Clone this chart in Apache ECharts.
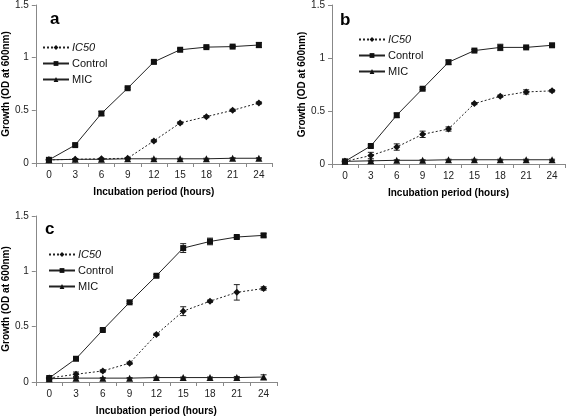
<!DOCTYPE html>
<html><head><meta charset="utf-8">
<script src="https://cdn.jsdelivr.net/npm/echarts@6/dist/echarts.min.js"></script>
<style>html,body{margin:0;padding:0;background:#fff}#c{width:567px;height:417px}</style>
</head><body><div id="c"></div>
<script>
const hours = ['0','3','6','9','12','15','18','21','24'];
const yTicks = [0, 0.5, 1, 1.5];
const panelLabels = ['a','b','c'];
const seriesNames = ['IC50','Control','MIC'];

// Panel a
const aIC50 = [0.03,0.035,0.04,0.045,0.21,0.38,0.44,0.50,0.57];
const aIC50Err = [0.005,0.005,0.005,0.005,0.01,0.01,0.01,0.01,0.01];
const aControl = [0.03,0.17,0.47,0.71,0.96,1.075,1.10,1.105,1.12];
const aControlErr = [0.005,0.01,0.02,0.01,0.015,0.01,0.01,0.01,0.025];
const aMIC = [0.03,0.035,0.035,0.04,0.04,0.04,0.04,0.045,0.045];
const aMICErr = [0.005,0.005,0.005,0.005,0.005,0.005,0.005,0.005,0.005];

// Panel b
const bIC50 = [0.025,0.08,0.16,0.28,0.33,0.57,0.64,0.68,0.69];
const bIC50Err = [0.005,0.03,0.03,0.03,0.02,0.01,0.01,0.02,0.01];
const bControl = [0.025,0.17,0.46,0.71,0.96,1.07,1.10,1.10,1.12];
const bControlErr = [0.01,0.01,0.02,0.01,0.02,0.01,0.03,0.01,0.01];
const bMIC = [0.025,0.03,0.035,0.035,0.04,0.04,0.04,0.04,0.04];
const bMICErr = [0.005,0.005,0.005,0.005,0.005,0.005,0.005,0.005,0.005];

// Panel c
const cIC50 = [0.036,0.07,0.10,0.17,0.43,0.64,0.73,0.81,0.845];
const cIC50Err = [0.005,0.02,0.01,0.01,0.01,0.04,0.01,0.07,0.015];
const cControl = [0.036,0.21,0.47,0.72,0.96,1.21,1.27,1.31,1.325];
const cControlErr = [0.01,0.01,0.01,0.01,0.01,0.04,0.03,0.01,0.015];
const cMIC = [0.03,0.035,0.035,0.035,0.04,0.04,0.04,0.04,0.045];
const cMICErr = [0.005,0.005,0.005,0.005,0.005,0.005,0.005,0.01,0.02];

const panels = [
  {ic:aIC50, icE:aIC50Err, ct:aControl, ctE:aControlErr, mic:aMIC, micE:aMICErr},
  {ic:bIC50, icE:bIC50Err, ct:bControl, ctE:bControlErr, mic:bMIC, micE:bMICErr},
  {ic:cIC50, icE:cIC50Err, ct:cControl, ctE:cControlErr, mic:cMIC, micE:cMICErr}
];

const FONT = '"Liberation Sans", Arial, sans-serif';
const grids = [
  {left:34, top:5, width:238, height:158},
  {left:332, top:5, width:233, height:159},
  {left:34, top:216, width:243, height:166}
];
const legendPos = [{left:42, top:42},{left:358, top:34},{left:48, top:249}];
const letterPos = [{left:50, top:11},{left:340, top:12},{left:45, top:221}];

function errSeries(idx, vals, errs) {
  return {
    type:'custom', xAxisIndex:idx, yAxisIndex:idx, z:1, silent:true,
    data: vals.map((v,i)=>[i, v-errs[i], v+errs[i]]),
    renderItem: function(params, api){
      const x = api.value(0);
      const lo = api.coord([x, api.value(1)]);
      const hi = api.coord([x, api.value(2)]);
      const w = 3;
      const st = {stroke:'#222', lineWidth:1};
      return {type:'group', children:[
        {type:'line', shape:{x1:lo[0],y1:lo[1],x2:hi[0],y2:hi[1]}, style:st},
        {type:'line', shape:{x1:lo[0]-w,y1:lo[1],x2:lo[0]+w,y2:lo[1]}, style:st},
        {type:'line', shape:{x1:hi[0]-w,y1:hi[1],x2:hi[0]+w,y2:hi[1]}, style:st}
      ]};
    }
  };
}

const series = [];
panels.forEach((p, i) => {
  series.push(errSeries(i, p.ic, p.icE));
  series.push(errSeries(i, p.ct, p.ctE));
  series.push(errSeries(i, p.mic, p.micE));
  series.push({name:seriesNames[0], type:'line', xAxisIndex:i, yAxisIndex:i, data:p.ic, z:3,
    symbol:'diamond', symbolSize:7, itemStyle:{color:'#111'},
    lineStyle:{color:'#222', width:1, type:[2,2]}});
  series.push({name:seriesNames[1], type:'line', xAxisIndex:i, yAxisIndex:i, data:p.ct, z:3,
    symbol:'rect', symbolSize:6, itemStyle:{color:'#111'},
    lineStyle:{color:'#222', width:1}});
  series.push({name:seriesNames[2], type:'line', xAxisIndex:i, yAxisIndex:i, data:p.mic, z:3,
    symbol:'triangle', symbolSize:7, itemStyle:{color:'#111'},
    lineStyle:{color:'#222', width:1}});
});

const option = {
  animation:false,
  backgroundColor:'#fff',
  textStyle:{fontFamily:FONT},
  title: panelLabels.map((t,i)=>({text:t, left:letterPos[i].left, top:letterPos[i].top, padding:0,
    textStyle:{fontFamily:FONT, fontSize:17, fontWeight:'bold', color:'#000'}})),
  legend: grids.map((g,i)=>({
    orient:'vertical', left:legendPos[i].left, top:legendPos[i].top, padding:0,
    itemWidth:26, itemHeight:6, itemGap:5,
    textStyle:{fontFamily:FONT, fontSize:11, color:'#111', padding:[0,0,0,-2]},
    data:[{name:'IC50', textStyle:{fontStyle:'italic'}}, {name:'Control'}, {name:'MIC'}]
  })),
  grid: grids,
  xAxis: grids.map((g,i)=>({
    type:'category', gridIndex:i, data:hours, boundaryGap:true,
    name:'Incubation period (hours)', nameLocation:'middle', nameGap:24,
    nameTextStyle:{fontFamily:FONT, fontSize:10, fontWeight:'bold', color:'#000'},
    axisLine:{lineStyle:{color:'#888', width:1}},
    axisTick:{show:true, length:4, lineStyle:{color:'#888'}, interval:0},
    axisLabel:{fontFamily:FONT, fontSize:10, color:'#222', margin:7, interval:0},
    splitLine:{show:false}
  })),
  yAxis: grids.map((g,i)=>({
    type:'value', gridIndex:i, min:yTicks[0], max:yTicks[yTicks.length-1], interval:0.5,
    name:'Growth (OD at 600nm)', nameLocation:'middle', nameGap:22,
    nameTextStyle:{fontFamily:FONT, fontSize:10, fontWeight:'bold', color:'#000'},
    axisLine:{show:true, lineStyle:{color:'#888', width:1}},
    axisTick:{show:true, length:4, lineStyle:{color:'#888'}},
    axisLabel:{fontFamily:FONT, fontSize:10, color:'#222', margin:7},
    splitLine:{show:false}
  })),
  series: series
};
const chart = echarts.init(document.getElementById('c'), null, {renderer:'canvas'});
chart.setOption(option);
</script></body></html>
